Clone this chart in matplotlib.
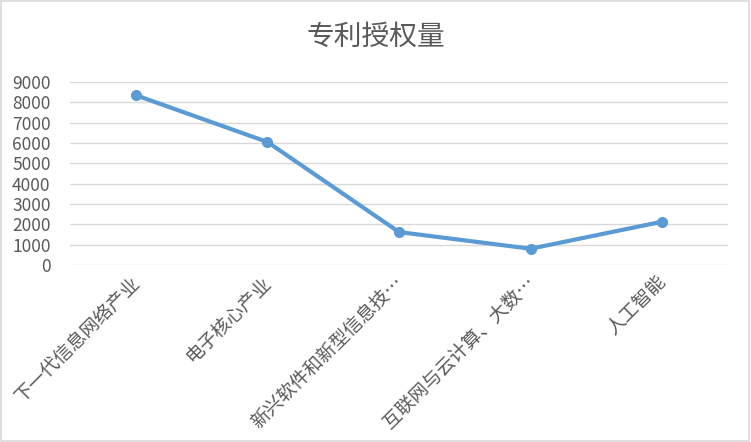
import matplotlib.pyplot as plt
from matplotlib.patches import Rectangle
from matplotlib.transforms import ScaledTranslation

plt.rcParams['font.family'] = ['Noto Sans CJK SC', 'DejaVu Sans']

categories = ["下一代信息网络产业", "电子核心产业", "新兴软件和新型信息技…",
              "互联网与云计算、大数…", "人工智能"]
values = [8350, 6050, 1620, 800, 2130]
y_ticks = [0, 1000, 2000, 3000, 4000, 5000, 6000, 7000, 8000, 9000]


def main():
    fig = plt.figure(figsize=(7.51, 4.42), dpi=100)
    fig.patches.append(Rectangle((0.001, 0.002), 0.997, 0.995, transform=fig.transFigure,
                                 fill=False, edgecolor="#d9d9d9", linewidth=1.2))
    ax = fig.add_axes([70 / 751, 1 - 265 / 442, 658 / 751, 183 / 442])

    x = list(range(len(categories)))
    ax.plot(x, values, color="#5b9bd5", linewidth=3, marker="o", markersize=7,
            solid_capstyle="round", zorder=3)

    ax.set_xlim(-0.5, len(categories) - 0.5)
    ax.set_ylim(0, 9000)
    ax.set_yticks(y_ticks)
    ax.yaxis.grid(True, color="#d9d9d9", linewidth=1)
    ax.set_axisbelow(True)
    for s in ax.spines.values():
        s.set_visible(False)
    ax.tick_params(length=0, colors="#595959")
    ax.tick_params(axis="y", pad=14, labelsize=12.5)
    ax.set_xticks(x)
    ax.set_xticklabels(categories, rotation=45, ha="right", va="top",
                       rotation_mode="anchor", fontsize=13.5, color="#595959",
                       fontweight="light")
    ax.tick_params(axis="x", pad=5)
    shift = ScaledTranslation(-6 / 100, 0, fig.dpi_scale_trans)
    for lbl in ax.get_xticklabels():
        lbl.set_transform(lbl.get_transform() + shift)

    fig.text(0.5, 1 - 37 / 442, "专利授权量", ha="center", va="center",
             fontsize=20, color="#595959", fontweight="light")

    fig.savefig("out.png", dpi=100)


if __name__ == "__main__":
    main()
